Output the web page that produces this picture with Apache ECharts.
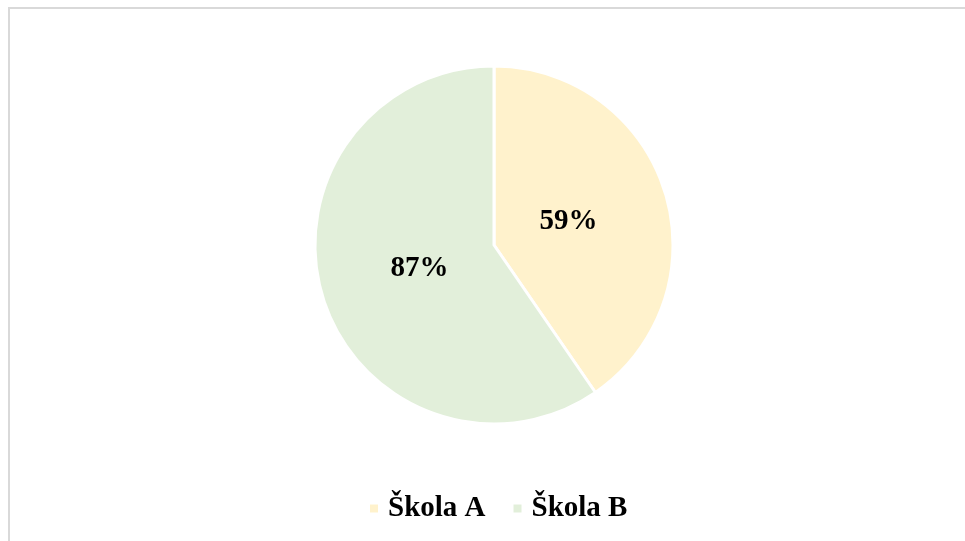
<!DOCTYPE html>
<html>
<head>
    <meta charset="utf-8" />
    <title>Škola A / Škola B</title>
    <script src="https://cdn.jsdelivr.net/npm/echarts@6.0.0/dist/echarts.min.js"></script>
    <style>
        * { margin: 0; padding: 0; box-sizing: border-box }
        html, body { width: 965px; height: 541px; background: #fff; overflow: hidden }
        .frame {
            position: absolute;
            left: 8px;
            top: 7px;
            width: 1000px;
            height: 600px;
            border-top: 2px solid #d9d9d9;
            border-left: 2px solid #d9d9d9
        }
        #chart { position: absolute; left: 0; top: 0; width: 965px; height: 541px }
    </style>
</head>
<body>
    <div class="frame"></div>
    <div id="chart"></div>
    <script>
        const categories = ['Škola A', 'Škola B'];
        const values = [59, 87];
        const colors = ['#fff2cc', '#e2efda'];

        const chart = echarts.init(document.getElementById('chart'));

        const textFont = { fontFamily: 'Liberation Serif', fontWeight: 'bold', fontSize: 29, color: '#000' };

        chart.setOption({
            animation: false,
            legend: {
                data: categories,
                bottom: 13,
                left: 363,
                icon: 'rect',
                itemWidth: 10,
                itemHeight: 10,
                itemGap: 26,
                textStyle: Object.assign({ padding: [0, 0, 0, 4] }, textFont)
            },
            series: [{
                type: 'pie',
                center: [494, 245],
                radius: [0, 179],
                startAngle: 90,
                clockwise: true,
                data: categories.map((c, i) => ({ name: c, value: values[i], itemStyle: { color: colors[i] } })),
                itemStyle: { borderColor: '#fff', borderWidth: 3 },
                label: { show: false },
                labelLine: { show: false },
                emphasis: { disabled: true }
            }, {
                // invisible ring only used to place the labels nearer the centre
                type: 'pie',
                center: [494, 245],
                radius: [0, 150],
                startAngle: 90,
                clockwise: true,
                silent: true,
                data: categories.map((c, i) => ({ name: c, value: values[i] })),
                itemStyle: { color: 'rgba(0,0,0,0)' },
                label: Object.assign({ position: 'inside', formatter: '{c}%' }, textFont),
                labelLine: { show: false },
                emphasis: { disabled: true }
            }]
        });
    </script>
</body>
</html>
